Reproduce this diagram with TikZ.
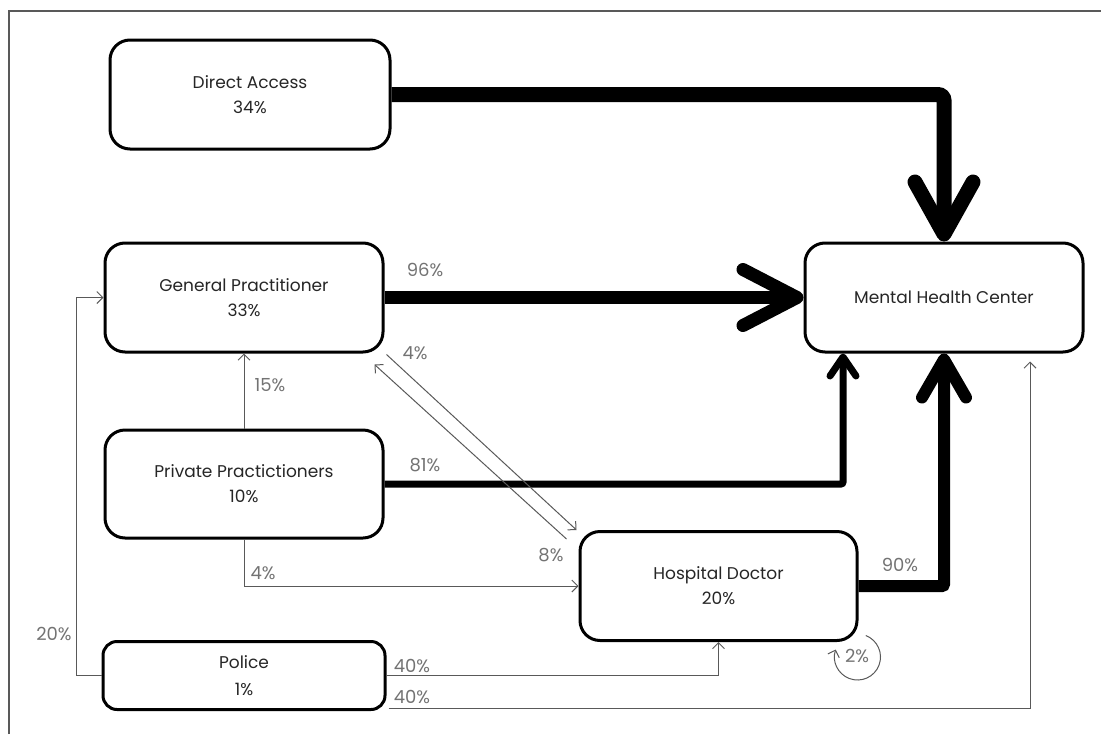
\documentclass[tikz,border=0pt]{standalone}
\usepackage{fontspec}
\setmainfont{Poppins}
\usetikzlibrary{arrows.meta,calc}
\begin{document}
\begin{tikzpicture}[x=1pt,y=-1pt,
  box/.style={draw=black,line width=3pt,rounded corners=20pt,fill=white,
    minimum width=278pt,minimum height=109pt,align=center,
    text=black!85,font=\fontsize{17}{25}\selectfont},
  lbl/.style={text=black!55,font=\fontsize{18}{20}\selectfont,inner sep=0pt},
  thin/.style={draw=black!65,line width=1pt,-{Straight Barb[length=6pt,width=12pt]}},
  fat/.style={line width=#1,line cap=butt}
]
\useasboundingbox (0,0) rectangle (1101,734);
% frame
\draw[black!65,line width=1.5pt] (9,734) -- (9,11) -- (1101,11);

% nodes
\node[box,minimum width=280pt] (DA) at (250,94.5) {Direct Access\\34\%};
\node[box] (GP) at (244,297.5) {General Practitioner\\33\%};
\node[box,minimum height=108pt] (PP) at (244,484) {Private Practictioners\\10\%};
\node[box,minimum width=277pt] (HD) at (718.5,586) {Hospital Doctor\\20\%};
\node[box,minimum width=282pt,minimum height=68pt,rounded corners=14pt,
      font=\fontsize{17}{27}\selectfont] (PO) at (244,675.5) {Police\\1\%};
\node[box] (MHC) at (944,297.5) {Mental Health Center};

% thick connectors
\draw[fat=15pt,rounded corners=6pt,-{Straight Barb[length=52pt,width=58pt,round]}]
  (DA.east) -| (MHC.north);
\draw[fat=13pt,-{Straight Barb[length=54pt,width=56pt,round]}]
  (GP.east) -- (MHC.west);
\draw[fat=7pt,rounded corners=2pt,-{Straight Barb[length=19pt,width=26pt,round]}]
  (PP.east) -| ($(MHC.south)+(-101,0)$);
\draw[fat=12pt,rounded corners=2pt,-{Straight Barb[length=38pt,width=44pt,round]}]
  (HD.east) -| (MHC.south);

% thin connectors
\draw[thin] (PP.north) -- (GP.south);
\draw[thin] (PP.south) |- (HD.west);
\coordinate (pol) at ($(PO.west)+(-25,0)$);
\draw[thin] (PO.west) -- (pol) |- (GP.west);
\draw[thin] (PO.east) -| (HD.south);
\coordinate (pst) at ($(PO.south east)+(2,-3)$);
\coordinate (mhe) at ($(MHC.south)+(86,8)$);
\draw[thin] (pst) -| (mhe);
\draw[thin] ($(GP.south east)+(2,1)$) -- ($(HD.north west)+(-2,0)$);
\draw[thin] ($(HD.north west)+(-12,9)$) -- ($(GP.south east)+(-10,11)$);
% self loop
\coordinate (loopc) at ($(HD.south east)+(-1,15)$);
\draw[thin] ([shift={(69:23pt)}]loopc) arc[start angle=69,end angle=-199,radius=23pt];

% labels
\node[lbl] (l96) at (425,270) {96\%};
\node[lbl] (l4a) at (415,353) {4\%};
\node[lbl] (l15) at (270,385) {15\%};
\node[lbl] (l81) at (425,465) {81\%};
\node[lbl] (l8) at (551,555) {8\%};
\node[lbl] (l4b) at (263,573) {4\%};
\node[lbl] (l90) at (900,565) {90\%};
\node[lbl] (l20) at (54,634) {20\%};
\node[lbl] (l40a) at (412,666) {40\%};
\node[lbl] (l40b) at (412,697) {40\%};
\node[lbl] (l2) at (857,656) {2\%};
\end{tikzpicture}
\end{document}
